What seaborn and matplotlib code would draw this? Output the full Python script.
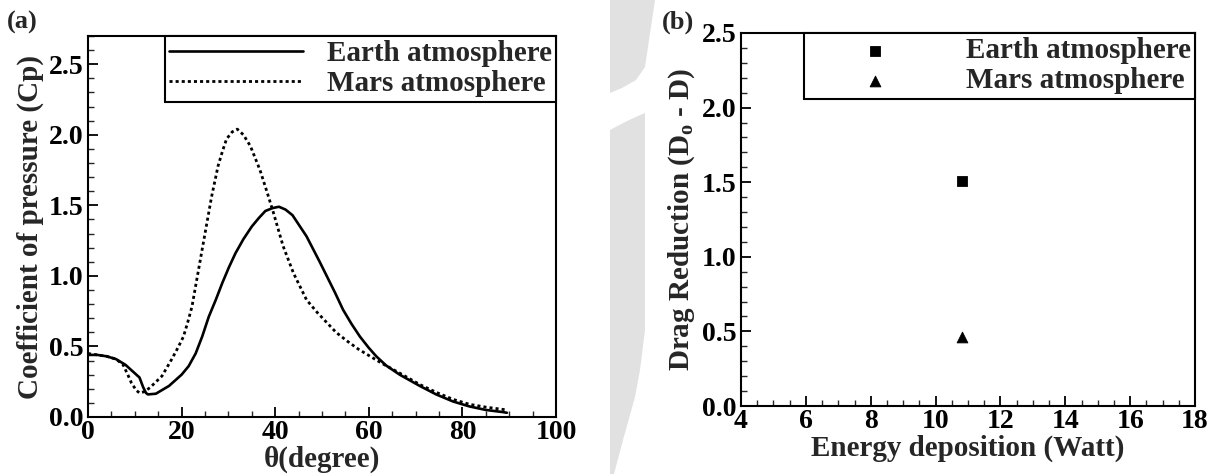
import matplotlib
matplotlib.use("Agg")
import matplotlib.pyplot as plt
import seaborn as sns
from matplotlib.patches import Polygon
from matplotlib.ticker import MultipleLocator

# panel (a): pressure coefficient along the body
theta_earth = [0, 2, 4, 6, 8, 9, 10, 11, 11.8, 12.4, 12.8, 14.5, 17.3, 20, 21.5, 23,
               24.4, 25.8, 27.3, 28.7, 30.1, 31.5, 33.2, 35, 36.5, 37.9, 39.4, 40.8,
               42.2, 43.7, 45.3, 46.7, 48.1, 49.5, 51, 52.8, 54.5, 56.3, 58.1, 60,
               61.6, 63.7, 66.6, 70.9, 74.4, 78, 81.5, 85, 88.6, 89.5]
cp_earth = [0.44, 0.44, 0.43, 0.41, 0.37, 0.34, 0.31, 0.28, 0.21, 0.17, 0.16, 0.165,
            0.22, 0.30, 0.36, 0.45, 0.57, 0.71, 0.83, 0.95, 1.06, 1.16, 1.26, 1.35,
            1.41, 1.46, 1.48, 1.49, 1.47, 1.43, 1.35, 1.28, 1.19, 1.10, 1.00, 0.88,
            0.76, 0.66, 0.57, 0.49, 0.43, 0.365, 0.30, 0.22, 0.16, 0.11, 0.075, 0.05,
            0.035, 0.03]

theta_mars = [0, 2, 4, 6, 7.5, 8.5, 9.3, 10.3, 11, 12.1, 13.3, 15.8, 17.9, 19.2, 20.4,
              21.3, 22.2, 23.6, 25, 26.4, 27.8, 28.7, 29.6, 30.8, 31.9, 33.2, 34.7,
              36.75, 38.2, 39.6, 41.7, 43.9, 46.7, 49, 51, 53, 55.3, 57.8, 60.3, 62.8,
              65.3, 68, 70.9, 74.4, 78, 81.5, 85, 89.5]
cp_mars = [0.45, 0.44, 0.43, 0.41, 0.37, 0.30, 0.24, 0.19, 0.17, 0.18, 0.21, 0.29,
           0.41, 0.49, 0.57, 0.67, 0.78, 1.04, 1.30, 1.56, 1.78, 1.88, 1.97, 2.02,
           2.04, 2.00, 1.92, 1.75, 1.60, 1.45, 1.21, 1.02, 0.83, 0.74, 0.67, 0.60,
           0.54, 0.48, 0.43, 0.38, 0.335, 0.285, 0.23, 0.175, 0.125, 0.09, 0.07, 0.05]

# panel (b): drag reduction
energy = [10.8]
drag_earth = [1.51]
drag_mars = [0.46]

labels = ["Earth atmosphere", "Mars atmosphere"]

sns.set_theme(style="ticks")
plt.rcParams["font.family"] = ["Liberation Serif", "DejaVu Serif"]
plt.rcParams["font.weight"] = "bold"
plt.rcParams["axes.labelweight"] = "bold"
plt.rcParams["mathtext.fontset"] = "custom"
plt.rcParams["mathtext.rm"] = "Liberation Serif:bold"
plt.rcParams["mathtext.bf"] = "Liberation Serif:bold"

fig = plt.figure(figsize=(12.2, 4.74), dpi=100)

# light grey watermark band between the panels
W, H = 1220, 474
band_top = [(610, 0), (655, 0), (645, 67), (636, 80), (622, 88), (610, 93)]
band_low = [(610, 130), (625, 122), (638, 116), (645, 113), (645, 330), (640, 370),
            (635, 397), (623, 440), (614, 474), (610, 474)]
for pts in (band_top, band_low):
    fig.patches.append(Polygon([(x / W, 1 - y / H) for x, y in pts], closed=True,
                               transform=fig.transFigure, facecolor="#e1e1e1",
                               edgecolor="none", zorder=0))

ax1 = fig.add_axes([88 / W, 1 - 417 / H, 468 / W, 381 / H])
ax2 = fig.add_axes([741 / W, 1 - 406 / H, 454 / W, 373 / H])

sns.lineplot(x=theta_earth, y=cp_earth, ax=ax1, color="black", lw=1.9,
             estimator=None, sort=False, label=labels[0])
sns.lineplot(x=theta_mars, y=cp_mars, ax=ax1, color="black", lw=2.0,
             estimator=None, sort=False, label=labels[1], linestyle=(0, (1.1, 1.1)))

sns.scatterplot(x=energy, y=drag_earth, ax=ax2, marker="s", color="black", s=55,
                edgecolor="black", label=labels[0])
sns.scatterplot(x=energy, y=drag_mars, ax=ax2, marker="^", color="black", s=60,
                edgecolor="black", label=labels[1])

ax1.set_xlim(0, 100)
ax1.set_ylim(0, 2.7)
ax1.xaxis.set_major_locator(MultipleLocator(20))
ax1.xaxis.set_minor_locator(MultipleLocator(5))
ax1.yaxis.set_major_locator(MultipleLocator(0.5))
ax1.yaxis.set_minor_locator(MultipleLocator(0.1))
ax1.set_xlabel("θ(degree)", fontsize=21, labelpad=1)
ax1.set_ylabel("Coefficient of pressure (Cp)", fontsize=21, labelpad=4)

ax2.set_xlim(4, 18)
ax2.set_ylim(0, 2.5)
ax2.xaxis.set_major_locator(MultipleLocator(2))
ax2.xaxis.set_minor_locator(MultipleLocator(0.5))
ax2.yaxis.set_major_locator(MultipleLocator(0.5))
ax2.yaxis.set_minor_locator(MultipleLocator(0.1))
ax2.set_xlabel("Energy deposition (Watt)", fontsize=21, labelpad=1)
ax2.set_ylabel(r"Drag Reduction (D$_{\mathregular{o}}$ - D)", fontsize=21, labelpad=4)

for ax in (ax1, ax2):
    for sp in ax.spines.values():
        sp.set_linewidth(1.5)
        sp.set_color("black")
    ax.tick_params(which="major", direction="in", length=7, width=1.3,
                   labelsize=20, pad=3, colors="black")
    ax.tick_params(which="minor", direction="in", length=4, width=1.0)
    ax.tick_params(axis="x", pad=2)
    for t in ax.get_xticklabels() + ax.get_yticklabels():
        t.set_fontweight("bold")
    leg = ax.legend(loc="upper right", bbox_to_anchor=(1, 1), borderaxespad=0,
                    fancybox=False, frameon=True, edgecolor="black", fontsize=21,
                    handlelength=4.6, handletextpad=0.8, borderpad=0.15,
                    labelspacing=0.1, framealpha=1)
    leg.get_frame().set_linewidth(1.5)

fig.text(7 / W, 1 - 22 / H, "(a)", fontsize=19, fontweight="bold", va="center")
fig.text(662 / W, 1 - 22 / H, "(b)", fontsize=19, fontweight="bold", va="center")

fig.savefig("out.png", dpi=100)
